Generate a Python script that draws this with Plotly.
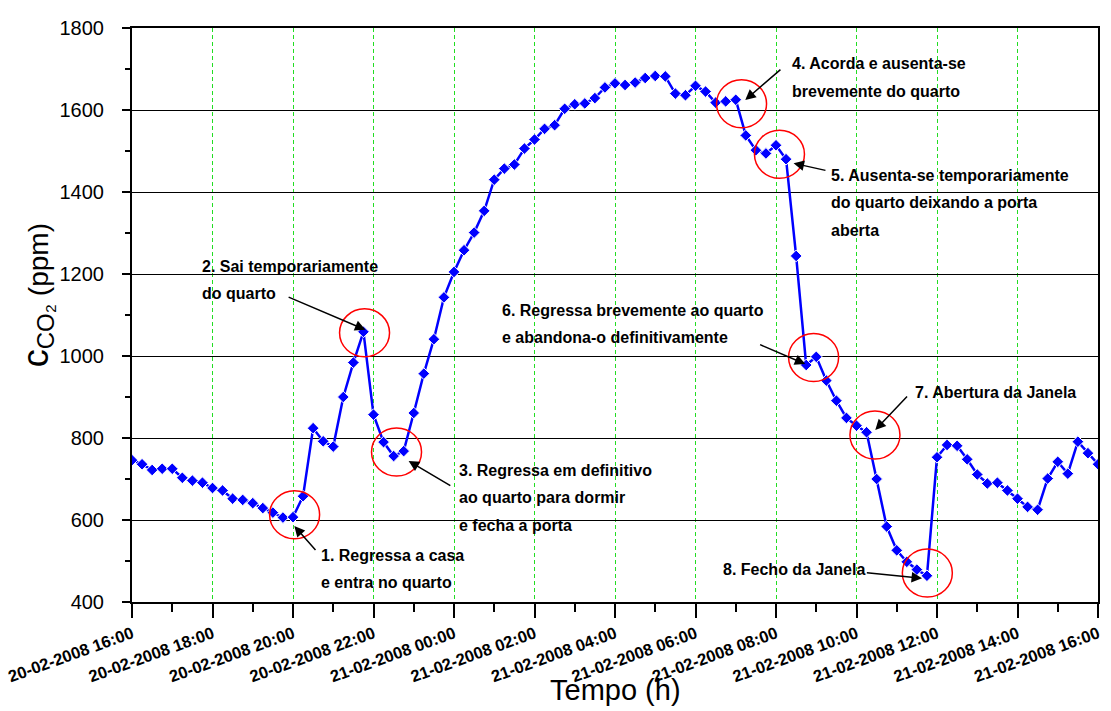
import plotly.graph_objects as go
import pandas as pd

# CO2 concentration in the bedroom, sampled every 15 minutes
start = "2008-02-20 16:00"
end = "2008-02-21 16:00"
times = pd.date_range(start, end, freq="15min")

co2 = [
    746, 736, 722, 725, 725, 703, 696, 691, 678, 672, 652, 649, 641, 629, 618, 606,
    607, 658, 824, 792, 779, 900, 984, 1059, 857, 790, 756, 768, 861, 957, 1041, 1143,
    1205, 1258, 1301, 1354, 1430, 1457, 1467, 1506, 1528, 1554, 1563, 1603, 1614, 1616, 1629, 1655,
    1665, 1661, 1667, 1678, 1683, 1682, 1640, 1636, 1659, 1645, 1618, 1621, 1625, 1538, 1502, 1494,
    1514, 1480, 1244, 978, 998, 940, 891, 849, 830, 814, 700, 584, 526, 498, 479, 464,
    753, 783, 781, 748, 711, 689, 691, 672, 652, 632, 625, 701, 742, 713, 791, 763,
    736,
]

# Occupancy events (index into the series) and their descriptions
event_idx = [16, 23, 26, 60, 65, 67, 73, 79]
event_labels = [
    ["1. Regressa a casa", "e entra no quarto"],
    ["2. Sai temporariamente", "do quarto"],
    ["3. Regressa em definitivo", "ao quarto para dormir", "e fecha a porta"],
    ["4. Acorda e ausenta-se", "brevemente do quarto"],
    ["5. Ausenta-se temporariamente", "do quarto deixando a porta", "aberta"],
    ["6. Regressa brevemente ao quarto", "e abandona-o definitivamente"],
    ["7. Abertura da Janela"],
    ["8. Fecho da Janela"],
]

x_ticks_hours = 2
y_min, y_max, y_step = 400, 1800, 200

# Callout geometry in screen pixels relative to each event point (y grows downward)
callouts = [
    dict(circle=(1.6, -2.4), tip=(1.3, 8.9), tail=(22.7, 25.7), text=(26.3, 37.9), anchor="left"),
    dict(circle=(1.1, 1.0), tip=(2.0, -2.0), tail=(-78.3, -33.3), text=(-163.1, -65.8), anchor="left"),
    dict(circle=(2.9, -4.0), tip=(15.0, 5.0), tail=(43.2, 25.5), text=(63.4, 14.0), anchor="left"),
    dict(circle=(5.8, 4.0), tip=(9.5, 0.3), tail=(36.7, -31.7), text=(54.6, -35.8), anchor="left"),
    dict(circle=(-6.6, -5.0), tip=(7.5, 4.1), tail=(33.4, 7.4), text=(42.5, 15.8), anchor="left"),
    dict(circle=(7.4, -7.5), tip=(-0.9, -1.0), tail=(-46.7, -20.0), text=(-305.9, -55.0), anchor="left"),
    dict(circle=(8.4, 2.7), tip=(8.7, -2.3), tail=(33.3, -35.0), text=(46.4, -39.6), anchor="left"),
    dict(circle=(0.4, -2.8), tip=(-4.9, 2.5), tail=(-56.7, -5.6), text=(-59.9, -5.8), anchor="right"),
]
line_gap = 27.5
circle_rx, circle_ry = 25, 24

FONT = "Arial, Liberation Sans, sans-serif"

fig = go.Figure()
fig.add_trace(go.Scatter(
    x=times, y=co2, mode="lines+markers",
    line=dict(color="#0000FF", width=2.5),
    marker=dict(symbol="diamond", size=9, color="#0000FF",
                line=dict(color="white", width=1)),
    showlegend=False,
))

shapes = []
annotations = []
for idx, lines, c in zip(event_idx, event_labels, callouts):
    t, v = times[idx], co2[idx]
    cx, cy = c["circle"]
    shapes.append(dict(
        type="circle", xref="x", yref="y",
        xsizemode="pixel", ysizemode="pixel",
        xanchor=t, yanchor=v,
        x0=cx - circle_rx, x1=cx + circle_rx,
        y0=-cy - circle_ry, y1=-cy + circle_ry,
        line=dict(color="#FF0000", width=1.5),
    ))
    tx, ty = c["tip"]
    ax, ay = c["tail"]
    annotations.append(dict(
        x=t, y=v, xref="x", yref="y", text=" ",
        xshift=tx, yshift=-ty, ax=ax, ay=ay,
        showarrow=True, arrowhead=2, arrowsize=1.4, arrowwidth=1.5,
        arrowcolor="black", font=dict(size=1),
    ))
    lx, ly = c["text"]
    for k, line in enumerate(lines):
        annotations.append(dict(
            x=t, y=v, xref="x", yref="y",
            text="<b>" + line + "</b>", showarrow=False,
            xanchor=c["anchor"], yanchor="middle",
            xshift=lx, yshift=-(ly + k * line_gap),
            font=dict(family=FONT, size=16, color="black"),
        ))

# Axis titles
annotations.append(dict(
    xref="paper", yref="paper", x=0.5, y=-0.153,
    text="Tempo (h)", showarrow=False, xanchor="center", yanchor="middle",
    font=dict(family=FONT, size=29, color="black"),
))
annotations.append(dict(
    xref="paper", yref="paper", x=-0.098, y=0.535,
    text='<span style="font-size:36px">c</span><sub><span style="font-size:24px">CO₂</span></sub> (ppm)',
    textangle=-90, showarrow=False, xanchor="center", yanchor="middle",
    font=dict(family=FONT, size=28, color="black"),
))

fig.update_layout(
    width=1111, height=711,
    margin=dict(l=132, r=13, t=28, b=109, autoexpand=False),
    paper_bgcolor="white", plot_bgcolor="white",
    shapes=shapes, annotations=annotations,
    font=dict(family=FONT, color="black"),
)

fig.update_xaxes(
    type="date", range=[start, end], automargin=False,
    tick0=start, dtick=x_ticks_hours * 3600000,
    tickformat="%d-%m-%Y %H:%M", tickangle=-20,
    tickfont=dict(family=FONT, size=16.6, color="black", weight="bold"),
    ticks="outside", ticklen=14, tickwidth=1.5, tickcolor="black",
    showline=True, linewidth=2, linecolor="black", mirror=True,
    showgrid=True, gridcolor="#22DD22", gridwidth=1, griddash="4px,3px",
    minor=dict(dtick=3600000, tick0=start, ticks="outside", ticklen=8,
               tickwidth=1.5, tickcolor="black", showgrid=False),
    zeroline=False,
)
fig.update_yaxes(
    range=[y_min, y_max], tick0=y_min, dtick=y_step, automargin=False,
    tickfont=dict(family=FONT, size=20, color="black"),
    ticks="outside", ticklen=8, tickwidth=1.5, tickcolor="black",
    ticklabelstandoff=14,
    showline=True, linewidth=2, linecolor="black", mirror=True,
    showgrid=True, gridcolor="black", gridwidth=1,
    minor=dict(dtick=100, ticks="outside", ticklen=5, tickwidth=1.5,
               tickcolor="black", showgrid=False),
    zeroline=False,
)

fig.write_html("out.html")
